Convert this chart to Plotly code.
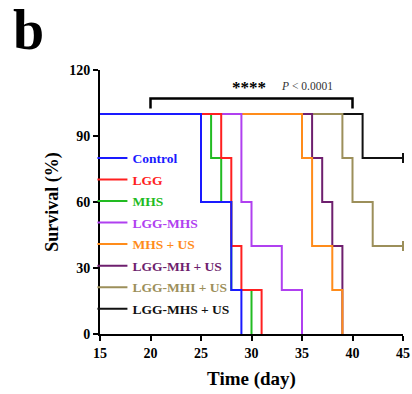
import plotly.graph_objects as go

# ---- data ----
groups = ["Control", "LGG", "MHS", "LGG-MHS", "MHS + US", "LGG-MH + US", "LGG-MHI + US", "LGG-MHS + US"]
colors = ["#1a1aff", "#ff2020", "#22bb22", "#b040f0", "#ff8c1a", "#6e1f6e", "#9c8f5a", "#111111"]

control_t = [0, 25, 28, 29]
control_s = [100, 60, 20, 0]
lgg_t = [0, 27, 28, 29, 31]
lgg_s = [100, 80, 40, 20, 0]
mhs_t = [0, 26, 27, 28, 30]
mhs_s = [100, 80, 60, 20, 0]
lggmhs_t = [0, 29, 30, 33, 35]
lggmhs_s = [100, 60, 40, 20, 0]
mhsus_t = [0, 35, 36, 38, 39]
mhsus_s = [100, 80, 40, 20, 0]
lggmhus_t = [0, 36, 37, 38, 39]
lggmhus_s = [100, 80, 60, 40, 0]
lggmhius_t = [0, 39, 40, 42, 45]
lggmhius_s = [100, 80, 60, 40, 40]
lggmhsus_t = [0, 41, 45]
lggmhsus_s = [100, 80, 80]

times = [control_t, lgg_t, mhs_t, lggmhs_t, mhsus_t, lggmhus_t, lggmhius_t, lggmhsus_t]
survs = [control_s, lgg_s, mhs_s, lggmhs_s, mhsus_s, lggmhus_s, lggmhius_s, lggmhsus_s]
censored = [False, False, False, False, False, False, True, True]

x_ticks = [15, 20, 25, 30, 35, 40, 45]
y_ticks = [0, 30, 60, 90, 120]

bracket_x = [20, 40]
bracket_y = 107
bracket_foot = 102.5
stars_text = "****"
p_text = "<i>P</i> &lt; 0.0001"

SERIF = "Liberation Serif"

fig = go.Figure()
# draw in reverse so the first groups sit on top
for i in reversed(range(len(groups))):
    name = f"<b><span style='color:{colors[i]}'>{groups[i]}</span></b>"
    fig.add_trace(go.Scatter(
        x=times[i], y=survs[i], mode="lines", line=dict(color=colors[i], width=2, shape="hv"),
        name=name, legendgroup=groups[i], legendrank=i + 1, showlegend=True, cliponaxis=True,
    ))
    if censored[i]:
        fig.add_trace(go.Scatter(
            x=[times[i][-1]], y=[survs[i][-1]], mode="markers",
            marker=dict(symbol="line-ns", size=7, line=dict(color=colors[i], width=2)),
            legendgroup=groups[i], legendrank=i + 1, showlegend=False, cliponaxis=False,
        ))

# significance bracket
fig.add_shape(type="path",
              path=f"M {bracket_x[0]},{bracket_foot} L {bracket_x[0]},{bracket_y} L {bracket_x[1]},{bracket_y} L {bracket_x[1]},{bracket_foot}",
              xref="x", yref="y", line=dict(color="black", width=2.5))
fig.add_annotation(x=29.8, y=112.0, xref="x", yref="y", text=f"<b>{stars_text}</b>", showarrow=False,
                   font=dict(family=SERIF, size=17, color="black"))
fig.add_annotation(x=35.5, y=112.8, xref="x", yref="y", text=p_text, showarrow=False,
                   font=dict(family=SERIF, size=11.5, color="#333333"))

# panel letter
fig.add_annotation(xref="paper", yref="paper", x=-0.2376, y=1.152, xanchor="center", yanchor="middle",
                   text="<b>b</b>", showarrow=False, font=dict(family=SERIF, size=56, color="black"))

fig.update_layout(
    width=412, height=394,
    margin=dict(l=100, r=9, t=70, b=60),
    paper_bgcolor="white", plot_bgcolor="white",
    font=dict(family=SERIF, size=14, color="black"),
    showlegend=True,
    legend=dict(x=-0.025, y=0.725, xanchor="left", yanchor="top", bgcolor="rgba(0,0,0,0)",
                font=dict(family=SERIF, size=13.5), traceorder="grouped",
                tracegroupgap=1),
)

fig.update_xaxes(range=[15, 45], tickvals=x_ticks, ticktext=[f"<b>{v}</b>" for v in x_ticks],
                 showline=True, linecolor="black", linewidth=2, ticks="outside", ticklen=5,
                 tickwidth=2, tickcolor="black", showgrid=False, zeroline=False, automargin=False,
                 ticklabeloverflow="allow",
                 tickfont=dict(family=SERIF, size=14),
                 title=dict(text="<b>Time (day)</b>", font=dict(family=SERIF, size=19), standoff=12))
fig.update_yaxes(range=[0, 120], tickvals=y_ticks, ticktext=[f"<b>{v}</b>" for v in y_ticks],
                 showline=True, linecolor="black", linewidth=2, ticks="outside", ticklen=5,
                 tickwidth=2, tickcolor="black", showgrid=False, zeroline=False, automargin=False,
                 tickfont=dict(family=SERIF, size=14),
                 title=dict(text="<b>Survival (%)</b>", font=dict(family=SERIF, size=18), standoff=6))

fig.write_html("out.html",
               config={"displayModeBar": False},
               post_script="document.body.style.margin='0';document.body.style.overflow='hidden';")
